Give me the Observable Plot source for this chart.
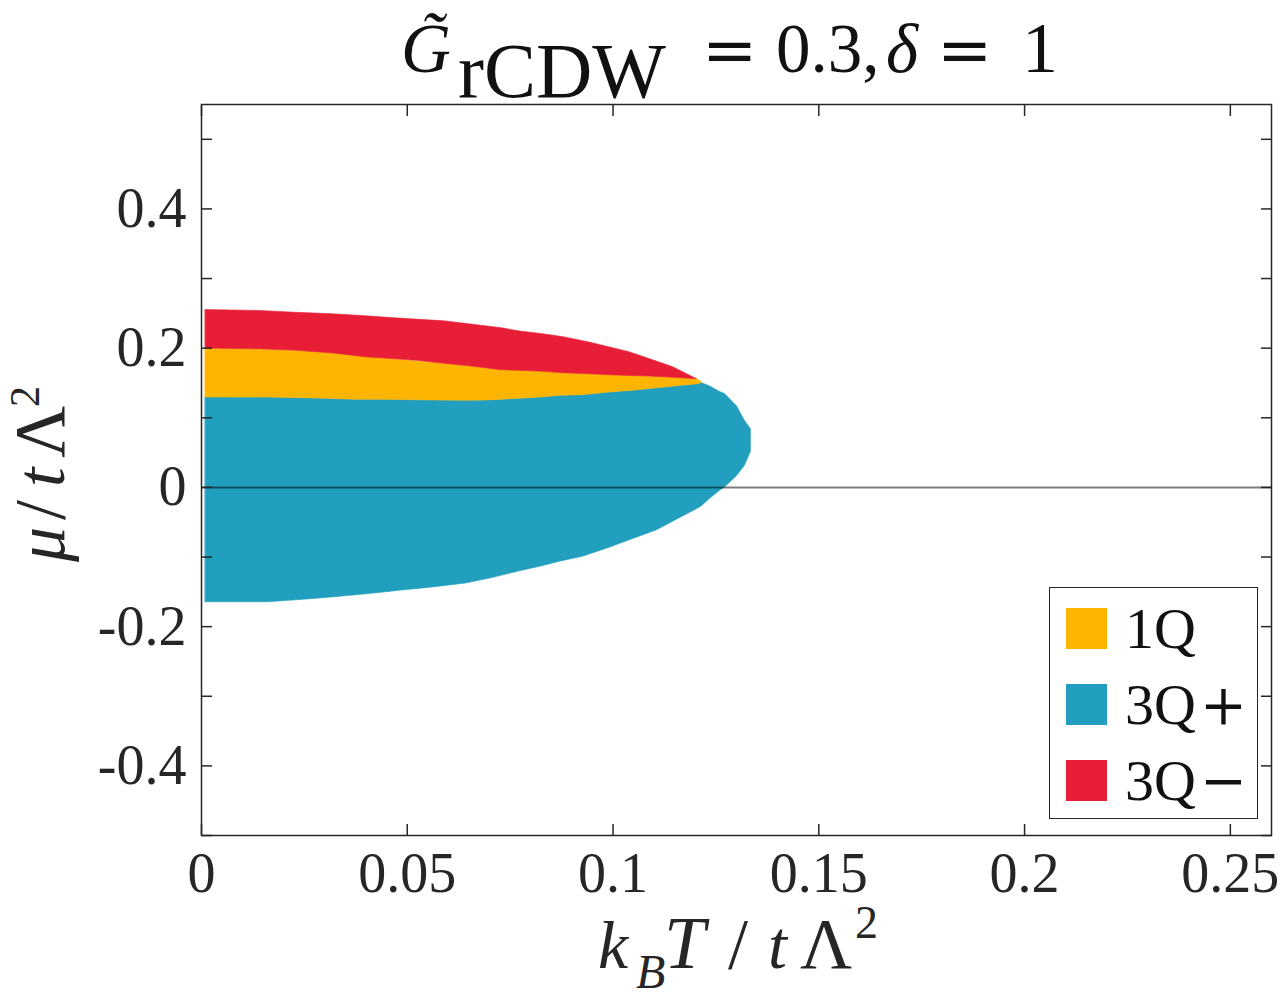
<!DOCTYPE html>
<html>
<head>
<meta charset="utf-8">
<script src="https://cdn.jsdelivr.net/npm/d3@7"></script>
<script src="https://cdn.jsdelivr.net/npm/@observablehq/plot@0.6"></script>
<style>
  html, body { margin: 0; padding: 0; background: #fff; }
  #wrap { position: relative; width: 1282px; height: 1003px; }
  #legend {
    position: absolute; left: 1049px; top: 587px; width: 209px; height: 232px;
    border: 1.5px solid #262626; background: #fff; box-sizing: border-box;
    font-family: "Liberation Serif", serif; font-size: 58px; color: #111;
  }
  .row { position: absolute; left: 16px; height: 42px; display: flex; align-items: center; }
  .sw { width: 41px; height: 41px; margin-right: 18px; flex: none; }
  .op { font-family: "DejaVu Serif", serif; font-size: 56px; margin-left: 4px; }
</style>
</head>
<body>
<div id="wrap"></div>
<script>
// ---- data ----
const phases = ["1Q", "3Q", "3Q"];
const phaseOps = ["", "+", "\u2212"];
const colors = ["#FEB501", "#229FBE", "#E81E36"];

// 3Q+ region (teal): lower and upper boundaries vs kBT
const tealX  = [0.001, 0.0163, 0.0257, 0.0318, 0.0376, 0.0427, 0.0488, 0.0558, 0.0643, 0.0701, 0.0774, 0.0823, 0.0871, 0.0927, 0.0985, 0.1049, 0.1107, 0.1155, 0.1204, 0.1216, 0.1235, 0.1260, 0.1272, 0.1301, 0.1320, 0.1335];
const tealLo = [-0.165, -0.165, -0.161, -0.158, -0.155, -0.152, -0.148, -0.144, -0.138, -0.131, -0.1205, -0.1140, -0.1067, -0.0995, -0.0880, -0.0742, -0.0615, -0.0465, -0.0312, -0.027, -0.0168, -0.0049, 0.0, 0.0162, 0.0306, 0.0507];
const tealHi = [0.1291, 0.129, 0.128, 0.127, 0.126, 0.126, 0.1255, 0.125, 0.1245, 0.125, 0.1274, 0.129, 0.1315, 0.1325, 0.136, 0.139, 0.1425, 0.1453, 0.148, 0.1496, 0.1453, 0.137, 0.134, 0.1166, 0.096, 0.0837];

// 1Q region (yellow)
const yelX  = [0.001, 0.0163, 0.0257, 0.0318, 0.0376, 0.0427, 0.0488, 0.0558, 0.0643, 0.0701, 0.0774, 0.0823, 0.0871, 0.0927, 0.0985, 0.1049, 0.1107, 0.1155, 0.1204, 0.1216];
const yelLo = [0.1291, 0.129, 0.128, 0.127, 0.126, 0.126, 0.1255, 0.125, 0.1245, 0.125, 0.1274, 0.129, 0.1315, 0.1325, 0.136, 0.139, 0.1425, 0.1453, 0.148, 0.1496];
const yelHi = [0.1994, 0.1977, 0.1948, 0.1923, 0.1893, 0.1862, 0.1825, 0.1791, 0.1745, 0.170, 0.1675, 0.1661, 0.1647, 0.1628, 0.1612, 0.1599, 0.1587, 0.157, 0.1554, 0.151];

// 3Q- region (red)
const redX  = [0.001, 0.014, 0.023, 0.032, 0.040, 0.047, 0.053, 0.059, 0.065, 0.073, 0.077, 0.083, 0.088, 0.094, 0.099, 0.104, 0.109, 0.1146, 0.1204];
const redLo = [0.1994, 0.1984, 0.1963, 0.1923, 0.1869, 0.1840, 0.1815, 0.1775, 0.1740, 0.1683, 0.1675, 0.1660, 0.1640, 0.1626, 0.1611, 0.1600, 0.1592, 0.1575, 0.1554];
const redHi = [0.2547, 0.2535, 0.2508, 0.2486, 0.2458, 0.2429, 0.2407, 0.2386, 0.2343, 0.2286, 0.2243, 0.2200, 0.2157, 0.2085, 0.2013, 0.1941, 0.1841, 0.1726, 0.1554];

// axes
const xTicks = [0, 0.05, 0.1, 0.15, 0.2, 0.25];
const xTickLabels = ["0", "0.05", "0.1", "0.15", "0.2", "0.25"];
const yTicks = [-0.5, -0.4, -0.3, -0.2, -0.1, 0, 0.1, 0.2, 0.3, 0.4, 0.5];
const yLabelTicks = [-0.4, -0.2, 0, 0.2, 0.4];
const yTickLabels = ["-0.4", "-0.2", "0", "0.2", "0.4"];

const mk = (xs, lo, hi) => xs.map((x, i) => ({x, lo: lo[i], hi: hi[i]}));
const teal = mk(tealX, tealLo, tealHi);
const yel = mk(yelX, yelLo, yelHi);
const red = mk(redX, redLo, redHi);

const axisColor = "#262626";
const plot = Plot.plot({
  width: 1282,
  height: 1003,
  marginLeft: 201,
  marginRight: 11,
  marginTop: 104,
  marginBottom: 168,
  style: {fontFamily: "'Liberation Serif', serif", fontSize: "56px", color: axisColor, background: "#fff", overflow: "visible"},
  x: {domain: [0, 0.26]},
  y: {domain: [-0.5, 0.55]},
  marks: [
    Plot.areaY(teal, {x: "x", y1: "lo", y2: "hi", fill: colors[1], stroke: colors[1], strokeWidth: 0.6}),
    Plot.areaY(yel, {x: "x", y1: "lo", y2: "hi", fill: colors[0], stroke: colors[0], strokeWidth: 0.6}),
    Plot.areaY(red, {x: "x", y1: "lo", y2: "hi", fill: colors[2], stroke: colors[2], strokeWidth: 0.6}),
    Plot.ruleY([0], {stroke: "#000", strokeOpacity: 0.5, strokeWidth: 2}),
    // inward tick marks on all four sides
    Plot.axisX(xTicks, {anchor: "bottom", tickSize: -11, tickFormat: () => "", label: null, stroke: axisColor, strokeWidth: 1.5}),
    Plot.axisX(xTicks, {anchor: "top", tickSize: -11, tickFormat: () => "", label: null, stroke: axisColor, strokeWidth: 1.5}),
    Plot.axisY(yTicks, {anchor: "left", tickSize: -11, tickFormat: () => "", label: null, stroke: axisColor, strokeWidth: 1.5}),
    Plot.axisY(yTicks, {anchor: "right", tickSize: -11, tickFormat: () => "", label: null, stroke: axisColor, strokeWidth: 1.5}),
    // tick labels
    Plot.axisX(xTicks, {anchor: "bottom", tickSize: 0, tickPadding: 17, tickFormat: (d, i) => xTickLabels[i], label: null, fill: axisColor}),
    Plot.axisY(yLabelTicks, {anchor: "left", tickSize: 0, tickPadding: 15, tickFormat: (d, i) => yTickLabels[i], label: null, fill: axisColor}),
    Plot.frame({stroke: axisColor, strokeWidth: 1.5})
  ]
});

document.getElementById("wrap").appendChild(plot);

// title and axis labels with sub/superscripts
const svg = d3.select(plot);
const serif = "'Liberation Serif', serif";
const opFont = "'DejaVu Serif', serif";

function piece(sel, o) {
  const t = sel.append("tspan").attr("x", o.x).attr("y", o.y).attr("text-anchor", "start").text(o.text);
  if (o.italic) t.attr("font-style", "italic");
  if (o.size) t.attr("font-size", o.size);
  if (o.font) t.attr("font-family", o.font);
  return t;
}

const title = svg.append("text").attr("text-anchor", "start")
  .attr("font-family", serif).attr("font-size", 69).attr("fill", "#111");
piece(title, {x: 401, y: 72, text: "G\u0303", italic: true});
piece(title, {x: 458, y: 97, text: "rCDW", size: 78});
piece(title, {x: 702, y: 72, text: "=", font: opFont, size: 66});
piece(title, {x: 776, y: 72, text: "0.3,"});
piece(title, {x: 886, y: 72, text: "\u03B4", italic: true});
piece(title, {x: 937, y: 72, text: "=", font: opFont, size: 66});
piece(title, {x: 1022, y: 72, text: "1", size: 72});

const xl = svg.append("text").attr("text-anchor", "start")
  .attr("font-family", serif).attr("font-size", 68).attr("fill", axisColor);
piece(xl, {x: 598, y: 968, text: "k", italic: true});
piece(xl, {x: 636, y: 988, text: "B", italic: true, size: 48});
piece(xl, {x: 664, y: 968, text: "T", italic: true, size: 74});
piece(xl, {x: 728, y: 968, text: "/", size: 72});
piece(xl, {x: 768, y: 968, text: "t", italic: true});
piece(xl, {x: 800, y: 968, text: "\u039B", size: 72});
piece(xl, {x: 855, y: 938, text: "2", size: 46});

const yl = svg.append("text").attr("text-anchor", "start")
  .attr("transform", "translate(64,0) rotate(-90)")
  .attr("font-family", serif).attr("font-size", 70).attr("fill", axisColor);
piece(yl, {x: -562, y: 0, text: "\u03BC", italic: true});
piece(yl, {x: -520, y: 0, text: "/", size: 72});
piece(yl, {x: -487, y: 0, text: "t", italic: true});
piece(yl, {x: -458, y: 0, text: "\u039B", size: 72});
piece(yl, {x: -407, y: -25, text: "2", size: 42});

// legend (inside the axes, lower right)
const legend = d3.select("#wrap").append("div").attr("id", "legend");
phases.forEach((p, i) => {
  const row = legend.append("div").attr("class", "row").style("top", (19 + i * 76) + "px");
  row.append("div").attr("class", "sw").style("background", colors[i]);
  row.append("span").text(p);
  if (phaseOps[i]) row.append("span").attr("class", "op").text(phaseOps[i]);
});
</script>
</body>
</html>
